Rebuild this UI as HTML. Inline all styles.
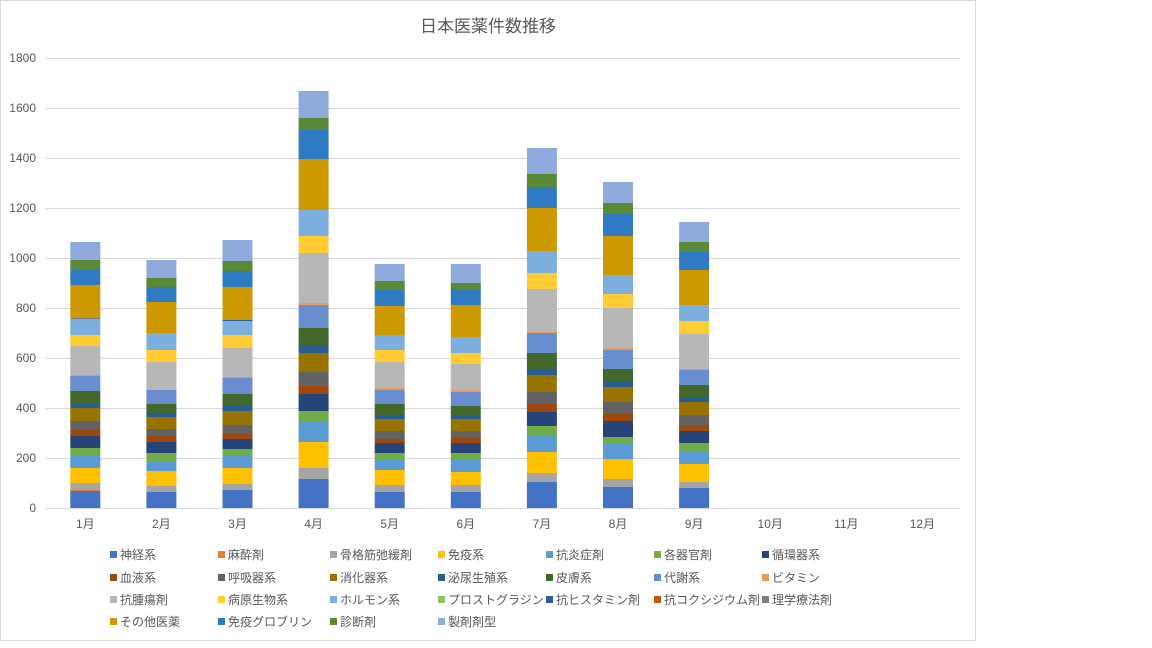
<!DOCTYPE html>
<html><head><meta charset="utf-8"><style>
body{margin:0;background:#fff;}
svg{display:block;font-family:"Liberation Sans","Noto Sans CJK JP",sans-serif;}
</style></head><body>
<svg width="1152" height="648" viewBox="0 0 1152 648">
<rect x="0.5" y="0.5" width="975" height="640" fill="#fff" stroke="#d9d9d9"/>
<text x="488" y="32" font-size="17" fill="#595959" text-anchor="middle">日本医薬件数推移</text>
<g id="grid" stroke="#d9d9d9" stroke-width="1"></g>
<g id="yl" font-size="12" fill="#595959" text-anchor="end"></g>
<g id="bars"></g>
<g id="xl" font-size="12" fill="#595959" text-anchor="middle"></g>
<g id="leg" font-size="12" fill="#595959"></g>
</svg>
<script>
const NS="http://www.w3.org/2000/svg";
function el(p,t,a,txt){const e=document.createElementNS(NS,t);for(const k in a)e.setAttribute(k,a[k]);if(txt!==undefined)e.textContent=txt;document.getElementById(p).appendChild(e);}
for(let i=0;i<=9;i++){const y=508-i*50;el("grid","line",{x1:45,x2:960,y1:y+0.5,y2:y+0.5});el("yl","text",{x:36,y:y+4},String(i*200));}
const names=["神経系","麻酔剤","骨格筋弛緩剤","免疫系","抗炎症剤","各器官剤","循環器系","血液系","呼吸器系","消化器系","泌尿生殖系","皮膚系","代謝系","ビタミン","抗腫瘍剤","病原生物系","ホルモン系","プロストグラジン","抗ヒスタミン剤","抗コクシジウム剤","理学療法剤","その他医薬","免疫グロブリン","診断剤","製剤剤型"];
const cols=["#4472C4","#ED7D31","#A5A5A5","#FFC000","#5B9BD5","#70AD47","#264478","#9E480E","#636363","#997300","#255E91","#43682B","#698ED0","#F1975A","#B7B7B7","#FFCD33","#7CAFDD","#8CC168","#335AA1","#C65911","#7E7E7E","#CC9A00","#2E7BC4","#5B8A37","#8FAADC"];
const tops=[
[491,490,483,468,456,448,436,430,421,408,404,391,376,375,346,335,319,319,319,319,318,285,270,260,242],
[492,492,486,471,461,453,442,436,429,417,413,404,390,390,362,350,333,333,333,333,333,302,287,278,260],
[490,490,484,468,456,449,439,434,425,411,406,394,378,377,348,335,322,321,320,320,320,287,271,261,240],
[479,479,468,442,422,411,394,386,372,353,345,328,305,303,253,236,210,210,210,210,210,159,130,118,91],
[492,492,485,470,459,453,443,439,431,419,415,404,390,388,362,350,335,335,335,335,335,306,290,281,264],
[492,492,485,472,459,453,443,438,431,419,416,406,392,390,364,353,337,337,337,337,337,305,289,283,264],
[482,482,473,452,436,426,412,404,392,375,369,353,333,332,289,273,251,251,251,251,251,208,187,174,148],
[487,487,479,459,444,437,421,414,402,387,381,369,350,348,308,294,275,275,275,275,275,236,214,203,182],
[488,488,482,464,451,443,431,425,415,402,397,385,370,369,334,321,306,305,305,305,305,270,252,242,222]];
tops.forEach((t,i)=>{let prev=508;const x=70.3+i*76.1;t.forEach((y,j)=>{if(prev-y>0)el("bars","rect",{x:x,y:y,width:30,height:prev-y,fill:cols[j]});prev=y;});});
for(let m=0;m<12;m++)el("xl","text",{x:85.3+m*76.1,y:528},(m+1)+"月");
const lx=[110,218,330,438,546,654,762],ly=[555,578,600,622];
names.forEach((n,i)=>{const r=Math.floor(i/7),c=i%7;el("leg","rect",{x:lx[c],y:ly[r]-4,width:7,height:7,fill:cols[i]});el("leg","text",{x:lx[c]+10,y:ly[r]+4},n);});
</script>
</body></html>
